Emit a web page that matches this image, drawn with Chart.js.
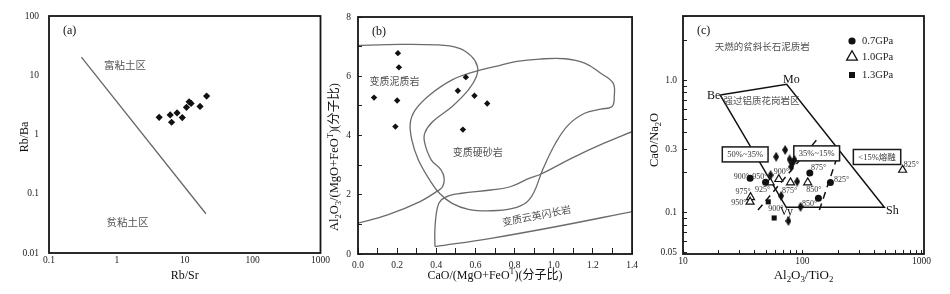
<!DOCTYPE html>
<html>
<head>
<meta charset="utf-8">
<script src="https://cdn.jsdelivr.net/npm/chart.js@4.4.1/dist/chart.umd.min.js"></script>
<style>
html, body { margin: 0; padding: 0; background: #fff; }
#wrap { position: relative; width: 950px; height: 294px; overflow: hidden; }
canvas { position: absolute; top: 0; }
</style>
</head>
<body>
<div id="wrap">
  <canvas id="chartA" width="332" height="294" style="left:0px"></canvas>
  <canvas id="chartB" width="328" height="294" style="left:322px"></canvas>
  <canvas id="chartC" width="305" height="294" style="left:645px"></canvas>
</div>
<script>
const SERIF = '"Liberation Serif", "DejaVu Serif", serif'
const MIX = '"Liberation Serif", "Noto Sans CJK SC", serif'
const CJK = '"Noto Sans CJK SC", sans-serif'

// (a) Rb/Sr - Rb/Ba
const aRbSr = [4.2, 6.1, 6.4, 7.7, 9.2, 10.6, 11.6, 12.4, 16.8, 21]
const aRbBa = [1.95, 2.14, 1.61, 2.31, 1.93, 2.87, 3.57, 3.35, 2.98, 4.45]
const aLineX = [0.3, 20.5]
const aLineY = [20.3, 0.046]
const aXTicks = [0.1, 1, 10, 100, 1000]
const aYTicks = [0.01, 0.1, 1, 10, 100]
const aNoteText = ['富粘土区', '贫粘土区']
const aNoteX = [1.32, 1.44]
const aNoteY = [14.9, 0.0337]

// (b) CaO/(MgO+FeOT) - Al2O3/(MgO+FeOT)
const bSampleX = [0.204, 0.209, 0.082, 0.2, 0.191, 0.551, 0.51, 0.595, 0.66, 0.536]
const bSampleY = [6.78, 6.30, 5.28, 5.18, 4.30, 5.97, 5.51, 5.34, 5.08, 4.20]
const bMudX = [0, 0.15, 0.40, 0.514, 0.58, 0.61, 0.605, 0.564, 0.481, 0.382, 0.341, 0.341, 0.374, 0.424, 0.44, 0.432, 0.407, 0.317, 0.151, 0]
const bMudY = [7.04, 7.07, 7.06, 6.95, 6.67, 6.33, 5.99, 5.54, 4.98, 4.47, 4.08, 3.74, 3.18, 2.84, 2.56, 2.27, 2.13, 1.77, 1.32, 1.04]
const bGreyX = [0.704, 0.597, 0.481, 0.366, 0.292, 0.267, 0.275, 0.308, 0.366, 0.416, 0.481, 0.564, 0.68, 0.79, 0.86, 0.90, 0.943, 1.009, 1.075, 1.158, 1.24, 1.298, 1.309, 1.303, 1.24, 1.158, 1.059, 0.927, 0.812, 0.704]
const bGreyY = [6.33, 6.16, 5.88, 5.37, 4.86, 4.42, 3.85, 3.18, 2.5, 2.05, 1.71, 1.51, 1.46, 1.54, 1.74, 2.10, 2.84, 3.74, 4.36, 4.75, 4.89, 4.98, 5.31, 5.77, 6.10, 6.44, 6.59, 6.58, 6.50, 6.33]
const bQdX = [0.393, 0.393, 0.405, 0.425, 0.47, 0.53, 0.679, 0.778, 0.877, 0.935, 1.09, 1.257, 1.4]
const bQdY = [0.25, 0.85, 1.55, 1.82, 1.98, 2.05, 2.16, 2.27, 2.56, 2.70, 3.23, 3.74, 4.13]
const bQdLowX = [0.393, 0.679, 1.009, 1.4]
const bQdLowY = [0.25, 0.53, 0.92, 1.43]
const bXTicks = [0, 0.1, 0.2, 0.3, 0.4, 0.5, 0.6, 0.7, 0.8, 0.9, 1.0, 1.1, 1.2, 1.3, 1.4]
const bXLabels = [0, 0.2, 0.4, 0.6, 0.8, 1.0, 1.2, 1.4]
const bYTicks = [0, 1, 2, 3, 4, 5, 6, 7, 8]
const bYLabels = [0, 2, 4, 6, 8]
const bNoteText = ['变质泥质岩', '变质硬砂岩', '变质云英闪长岩']
const bNoteX = [0.187, 0.612, 0.912]
const bNoteY = [5.82, 3.42, 1.30]
const bNoteRot = [0, 0, -11]

// (c) Al2O3/TiO2 - CaO/Na2O
const cSampleX = [60.4, 71.8, 78.2, 82.2, 86, 80.7, 90.5, 66.5, 54.2, 96.6, 76.5]
const cSampleY = [0.263, 0.296, 0.251, 0.234, 0.249, 0.221, 0.171, 0.133, 0.191, 0.110, 0.086]
const c07X = [36.5, 49.2, 115.6, 172, 136.5]
const c07Y = [0.181, 0.169, 0.198, 0.168, 0.128]
const c10X = [63.5, 79.6, 111, 53.8, 36.8, 36.5, 693]
const c10Y = [0.178, 0.168, 0.168, 0.168, 0.130, 0.120, 0.209]
const c13X = [51.8, 58.1]
const c13Y = [0.120, 0.0906]
const cFieldX = [20.5, 74, 487, 73.3, 20.5]
const cFieldY = [0.77, 0.93, 0.109, 0.109, 0.77]
const cDash1X = [42.5, 135]
const cDash1Y = [0.104, 0.362]
const cDash2X = [139, 203]
const cDash2Y = [0.104, 0.287]
const cXTicks = [10, 20, 30, 40, 50, 60, 70, 80, 90, 100, 200, 300, 400, 500, 600, 700, 800, 900, 1000]
const cXLabels = [10, 100, 1000]
const cYTicks = [0.05, 0.06, 0.07, 0.08, 0.09, 0.1, 0.2, 0.3, 0.4, 0.5, 0.6, 0.7, 0.8, 0.9, 1, 2, 3]
const cYLabels = [0.05, 0.1, 0.3, 1]
const cYLabelText = ['0.05', '0.1', '0.3', '1.0']
const cTempText = ['900°', '950°', '900°', '925°', '875°', '875°', '850°', '825°', '975°', '950°', '850°', '900°', '825°']
const cTempX = [30.8, 44, 66.8, 46.4, 78.4, 137, 125, 213, 31.9, 29.4, 115, 59.9, 820]
const cTempY = [0.186, 0.186, 0.203, 0.147, 0.146, 0.215, 0.147, 0.175, 0.143, 0.118, 0.116, 0.107, 0.228]
const cNoteText = ['天燃的贫斜长石泥质岩', '强过铝质花岗岩区']
const cNoteX = [46.1, 45.4]
const cNoteY = [1.81, 0.706]
const cVertexText = ['Be', 'Mo', 'Sh', 'Vy']
const cVertexX = [18.1, 81.1, 569, 73.6]
const cVertexY = [0.761, 1.0, 0.103, 0.101]
const cBoxText = ['50%~35%', '35%~15%', '<15%熔融']
const cBoxX = [33.2, 132, 423]
const cBoxY = [0.274, 0.279, 0.262]
const cLegendText = ['0.7GPa', '1.0GPa', '1.3GPa']

Chart.defaults.font.family = SERIF

const pts = (xs, ys) => xs.map((x, i) => ({x, y: ys[i]}))
const notes = (texts, xs, ys, font, color, rot) =>
    texts.map((text, i) => ({text, x: xs[i], y: ys[i], font, color, rot: rot ? rot[i] : 0}))

// text with _x subscripts and ^x superscripts
function drawRich(ctx, str, x, y, size, rot) {
    const parts = []
    for (let i = 0; i < str.length; i++) {
        const c = str[i]
        if ((c === '_' || c === '^') && i + 1 < str.length) {
            parts.push({t: str[i + 1], k: c})
            i++
        } else {
            const last = parts[parts.length - 1]
            if (last && last.k === '') last.t += c
            else parts.push({t: c, k: ''})
        }
    }
    const big = size + 'px ' + MIX
    const small = (size * 0.68).toFixed(1) + 'px ' + MIX
    let w = 0
    for (const p of parts) {
        ctx.font = p.k ? small : big
        p.w = ctx.measureText(p.t).width
        w += p.w
    }
    ctx.save()
    ctx.translate(x, y)
    ctx.rotate(rot || 0)
    ctx.textAlign = 'left'
    ctx.textBaseline = 'middle'
    ctx.fillStyle = '#111'
    let cx = -w / 2
    for (const p of parts) {
        ctx.font = p.k ? small : big
        const dy = p.k === '_' ? size * 0.32 : p.k === '^' ? -size * 0.32 : 0
        ctx.fillText(p.t, cx, dy)
        cx += p.w
    }
    ctx.restore()
}

function drawBoxes(chart, boxes) {
    const {ctx} = chart
    const sx = chart.scales.x, sy = chart.scales.y
    ctx.save()
    ctx.font = '8.5px ' + MIX
    ctx.textAlign = 'center'
    ctx.textBaseline = 'middle'
    for (const b of boxes) {
        const cx = sx.getPixelForValue(b.x), cy = sy.getPixelForValue(b.y)
        const w = ctx.measureText(b.text).width + 10, h = 15
        ctx.fillStyle = '#fff'
        ctx.fillRect(cx - w / 2, cy - h / 2, w, h)
        ctx.lineWidth = 1.5
        ctx.strokeStyle = '#1a1a1a'
        ctx.strokeRect(cx - w / 2, cy - h / 2, w, h)
        ctx.fillStyle = '#333'
        ctx.fillText(b.text, cx, cy + 0.5)
    }
    ctx.restore()
}

function drawLegend(ctx, ca, lg) {
    lg.items.forEach((it, i) => {
        const x = ca.left + lg.dx, y = ca.top + lg.dy[i]
        ctx.save()
        ctx.fillStyle = '#111'
        ctx.strokeStyle = '#111'
        ctx.lineWidth = 1.3
        ctx.beginPath()
        if (it.shape === 'circle') {
            ctx.arc(x, y, 3.6, 0, Math.PI * 2)
            ctx.fill()
        } else if (it.shape === 'triangle') {
            const r = 6.2
            ctx.moveTo(x, y - r)
            ctx.lineTo(x + r * 0.866, y + r * 0.5)
            ctx.lineTo(x - r * 0.866, y + r * 0.5)
            ctx.closePath()
            ctx.fillStyle = '#fff'
            ctx.fill()
            ctx.stroke()
        } else {
            ctx.rect(x - 3, y - 3, 6, 6)
            ctx.fill()
        }
        ctx.font = '10.5px ' + SERIF
        ctx.fillStyle = '#222'
        ctx.textAlign = 'left'
        ctx.textBaseline = 'middle'
        ctx.fillText(it.text, x + 10, y + 0.5)
        ctx.restore()
    })
}

function decor(o) {
    return {
        id: 'decor',
        afterDatasetDraw(chart, args) {
            if (o.boxes && args.index === o.boxesAfter) drawBoxes(chart, o.boxes)
        },
        afterDatasetsDraw(chart) {
            const {ctx, chartArea: ca} = chart
            const sx = chart.scales.x, sy = chart.scales.y
            ctx.save()
            ctx.textAlign = 'center'
            ctx.textBaseline = 'middle'
            for (const t of o.notes) {
                ctx.save()
                ctx.translate(sx.getPixelForValue(t.x), sy.getPixelForValue(t.y))
                ctx.rotate(t.rot * Math.PI / 180)
                ctx.font = t.font
                ctx.fillStyle = t.color
                ctx.fillText(t.text, 0, 0)
                ctx.restore()
            }
            if (o.legend) drawLegend(ctx, ca, o.legend)
            ctx.lineWidth = 1.8
            ctx.strokeStyle = '#151515'
            ctx.strokeRect(ca.left, ca.top, ca.right - ca.left, ca.bottom - ca.top)
            ctx.font = '12px ' + SERIF
            ctx.fillStyle = '#111'
            ctx.textAlign = 'left'
            ctx.fillText(o.letter, ca.left + 14, ca.top + 15)
            drawRich(ctx, o.xTitle, (ca.left + ca.right) / 2, chart.height - 18, o.xSize)
            drawRich(ctx, o.yTitle, o.yX, o.yY, o.ySize, -Math.PI / 2)
            ctx.restore()
        }
    }
}

function axis(a) {
    const texts = a.labelText || a.labels.map(String)
    return {
        type: a.type,
        position: a.pos,
        min: a.min,
        max: a.max,
        border: {display: false},
        grid: {
            display: a.tick > 0, drawOnChartArea: false, drawTicks: a.tick > 0,
            tickLength: -a.tick, color: '#222', lineWidth: 1
        },
        ticks: {
            autoSkip: false, maxRotation: 0, padding: a.pad, color: '#222',
            font: {size: 9.5, family: SERIF},
            callback: (v) => {
                const i = a.labels.findIndex(l => Math.abs(l - v) <= 1e-6 * Math.max(Math.abs(l), 1e-3))
                return i < 0 ? '' : texts[i]
            }
        },
        afterBuildTicks: (s) => { s.ticks = a.marks.map(value => ({value})) },
        afterFit: (s) => {
            if (a.pos === 'bottom') s.height = a.size
            else s.width = a.size
        }
    }
}

const base = {
    responsive: false,
    animation: false,
    events: [],
    devicePixelRatio: 1,
}
const quiet = {legend: {display: false}, tooltip: {enabled: false}}

function tallDiamond(w, h) {
    const cv = document.createElement('canvas')
    cv.width = w
    cv.height = h
    const g = cv.getContext('2d')
    g.fillStyle = '#111'
    g.beginPath()
    g.moveTo(w / 2, 0)
    g.lineTo(w, h / 2)
    g.lineTo(w / 2, h)
    g.lineTo(0, h / 2)
    g.closePath()
    g.fill()
    return cv
}

const curve = (xs, ys, extra) => ({
    data: pts(xs, ys), showLine: true, pointRadius: 0, borderColor: '#6b6b6b',
    borderWidth: 1.3, tension: 0.4, fill: false, ...extra
})

// ---- (a)
new Chart(document.getElementById('chartA'), {
    type: 'scatter',
    data: {
        datasets: [
            {data: pts(aRbSr, aRbBa), pointStyle: 'rectRot', pointRadius: 3.6, backgroundColor: '#111', borderColor: '#111', borderWidth: 0},
            curve(aLineX, aLineY, {tension: 0, borderColor: '#666'})
        ]
    },
    options: {
        ...base,
        layout: {padding: {top: 16, right: 11, left: 0, bottom: 0}},
        scales: {
            x: axis({type: 'logarithmic', pos: 'bottom', min: 0.1, max: 1000, marks: aXTicks, labels: aXTicks, tick: 0, pad: 2, size: 41}),
            y: axis({type: 'logarithmic', pos: 'left', min: 0.01, max: 100, marks: aYTicks, labels: aYTicks, tick: 0, pad: 10, size: 49})
        },
        plugins: quiet
    },
    plugins: [decor({
        letter: '(a)',
        notes: notes(aNoteText, aNoteX, aNoteY, '10.5px ' + CJK, '#555'),
        xTitle: 'Rb/Sr', xSize: 12,
        yTitle: 'Rb/Ba', ySize: 12, yX: 25, yY: 137
    })]
})

// ---- (b)
new Chart(document.getElementById('chartB'), {
    type: 'scatter',
    data: {
        datasets: [
            {data: pts(bSampleX, bSampleY), pointStyle: 'rectRot', pointRadius: 3.2, backgroundColor: '#111', borderColor: '#111', borderWidth: 0},
            curve(bMudX, bMudY),
            curve(bGreyX, bGreyY),
            curve(bQdX, bQdY),
            curve(bQdLowX, bQdLowY)
        ]
    },
    options: {
        ...base,
        layout: {padding: {top: 17, right: 9, left: 0, bottom: 0}},
        scales: {
            x: axis({type: 'linear', pos: 'bottom', min: 0, max: 1.4, marks: bXTicks, labels: bXLabels,
                labelText: bXLabels.map(v => v.toFixed(1)), tick: 6, pad: 12, size: 40}),
            y: axis({type: 'linear', pos: 'left', min: 0, max: 8, marks: bYTicks, labels: bYLabels, tick: 4, pad: 11, size: 36})
        },
        plugins: quiet
    },
    plugins: [decor({
        letter: '(b)',
        notes: notes(bNoteText, bNoteX, bNoteY, '10px ' + CJK, '#505050', bNoteRot),
        xTitle: 'CaO/(MgO+FeO^T)(分子比)', xSize: 12,
        yTitle: 'Al_2O_3/(MgO+FeO^T)(分子比)', ySize: 12.5, yX: 13, yY: 157
    })]
})

// ---- (c)
new Chart(document.getElementById('chartC'), {
    type: 'scatter',
    data: {
        datasets: [
            {data: pts(cSampleX, cSampleY), pointStyle: tallDiamond(6, 10), pointRadius: 4},
            {data: pts(c07X, c07Y), pointStyle: 'circle', pointRadius: 3.5, backgroundColor: '#111', borderColor: '#111', borderWidth: 0},
            {data: pts(c10X, c10Y), pointStyle: 'triangle', pointRadius: 4.6, backgroundColor: '#fff', borderColor: '#111', borderWidth: 1.2},
            {data: pts(c13X, c13Y), pointStyle: 'rect', pointRadius: 3.6, backgroundColor: '#111', borderColor: '#111', borderWidth: 0},
            curve(cFieldX, cFieldY, {tension: 0, borderColor: '#111', borderWidth: 1.5}),
            curve(cDash1X, cDash1Y, {tension: 0, borderColor: '#111', borderWidth: 1.5, borderDash: [7, 5]}),
            curve(cDash2X, cDash2Y, {tension: 0, borderColor: '#111', borderWidth: 1.5, borderDash: [7, 5]})
        ]
    },
    options: {
        ...base,
        layout: {padding: {top: 16, right: 26, left: 0, bottom: 0}},
        scales: {
            x: axis({type: 'logarithmic', pos: 'bottom', min: 10, max: 1047, marks: cXTicks, labels: cXLabels, tick: 4, pad: 6, size: 40}),
            y: axis({type: 'logarithmic', pos: 'left', min: 0.0484, max: 3.05, marks: cYTicks, labels: cYLabels,
                labelText: cYLabelText, tick: 4, pad: 10, size: 38})
        },
        plugins: quiet
    },
    plugins: [decor({
        letter: '(c)',
        boxesAfter: 4,
        boxes: cBoxText.map((text, i) => ({text, x: cBoxX[i], y: cBoxY[i]})),
        notes: [
            ...notes(cNoteText, cNoteX, cNoteY, '9.5px ' + CJK, '#505050'),
            ...notes(cVertexText, cVertexX, cVertexY, '12px ' + SERIF, '#111'),
            ...notes(cTempText, cTempX, cTempY, '8px ' + SERIF, '#333')
        ],
        legend: {
            dx: 169, dy: [25, 41, 59],
            items: cLegendText.map((text, i) => ({text, shape: ['circle', 'triangle', 'rect'][i]}))
        },
        xTitle: 'Al_2O_3/TiO_2', xSize: 13,
        yTitle: 'CaO/Na_2O', ySize: 12.5, yX: 10, yY: 140
    })]
})
</script>
</body>
</html>
